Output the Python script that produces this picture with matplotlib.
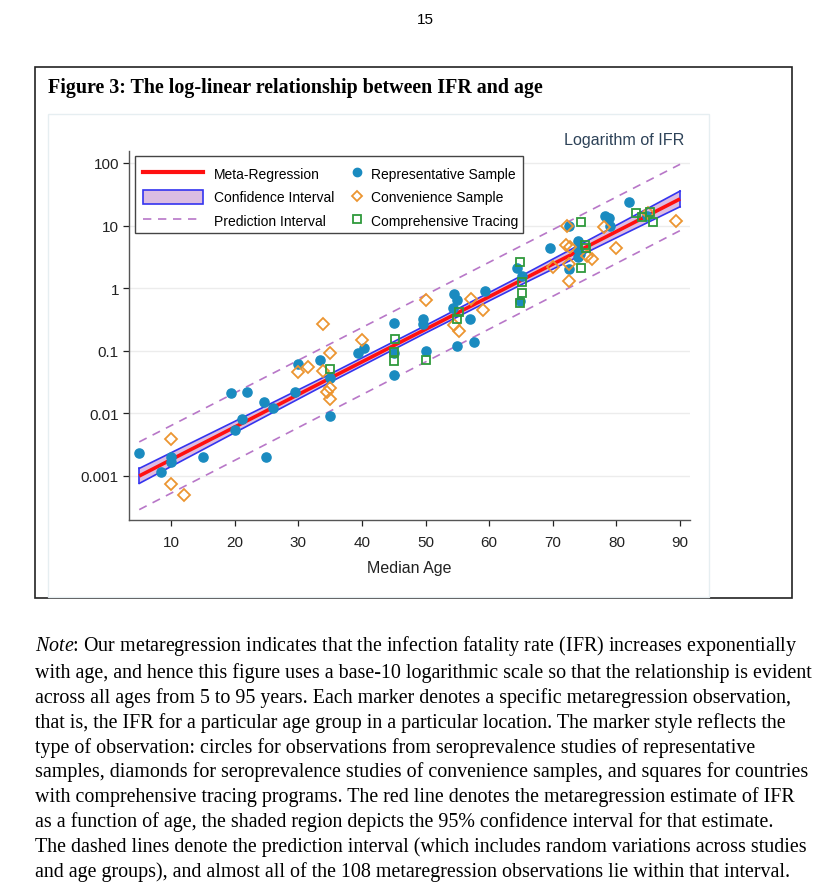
import matplotlib
matplotlib.use("Agg")
import matplotlib.pyplot as plt
from matplotlib.lines import Line2D
from matplotlib.patches import Patch, Rectangle

W, H = 831, 895

# Representative sample (filled circles): median age, IFR (%)
rep_age = [5, 8.4, 10, 10, 15, 19.5, 22, 20, 21.1, 24.6, 26.1, 25, 29.5, 30, 33.4,
           35, 35, 39.4, 40.4, 45, 45, 45, 49.6, 49.6, 50, 54.5, 55, 54.3, 55, 57,
           59.3, 57.6, 64.4, 65.1, 64.8, 69.5, 72.6, 74, 73.9, 74.3, 74, 72.6, 78.2,
           78.9, 79, 81.9, 84.8]
rep_ifr = [0.0023, 0.00115, 0.0020, 0.0017, 0.0020, 0.021, 0.022, 0.0055, 0.008, 0.015,
           0.012, 0.0020, 0.022, 0.062, 0.071, 0.037, 0.0091, 0.091, 0.11, 0.28, 0.091,
           0.041, 0.32, 0.27, 0.098, 0.81, 0.65, 0.48, 0.12, 0.32, 0.91, 0.14, 2.1, 1.55,
           0.62, 4.3, 9.7, 5.7, 4.2, 3.5, 3.1, 2.0, 14, 13, 10, 24, 14.4]

# Convenience sample (hollow diamonds)
conv_age = [10, 10, 12, 30, 31.6, 33.9, 33.9, 35, 35, 34.5, 35, 40, 50, 54.5, 55.2,
            57.1, 59.1, 70.1, 72.2, 72.1, 72.7, 75.4, 76.1, 72.6, 72.6, 78.1, 80, 85, 89.4]
conv_ifr = [0.0039, 0.00075, 0.0005, 0.046, 0.056, 0.27, 0.048, 0.092, 0.025, 0.022,
            0.017, 0.15, 0.65, 0.26, 0.21, 0.67, 0.44, 2.2, 10, 4.9, 4.5, 3.3, 2.9, 2.4,
            1.3, 9.4, 4.3, 16, 12]

# Comprehensive tracing (hollow squares)
trace_age = [35, 45.2, 45, 45, 50, 55.2, 55, 64.8, 65.1, 65.1, 64.8, 74.5, 75.1, 75.2,
             74.4, 83.1, 84, 85.3, 85.7]
trace_ifr = [0.052, 0.155, 0.095, 0.069, 0.072, 0.42, 0.32, 2.6, 1.25, 0.85, 0.58, 11.2,
             4.8, 4.3, 2.1, 15.8, 13.5, 16.6, 11.2]

# meta-regression line and intervals
fit_age = [5, 90]
fit_ifr = [0.00100, 26.6]
ci_age = [5, 20, 35, 50, 65, 80, 90]
ci_low = [0.00076, 0.00491, 0.0314, 0.192, 1.13, 6.38, 19.95]
ci_high = [0.00132, 0.00743, 0.0424, 0.253, 1.56, 10.1, 35.5]
pi_age = [5, 90]
pi_low = [0.00029, 8.3]
pi_high = [0.0035, 95]

xticks = [10, 20, 30, 40, 50, 60, 70, 80, 90]
yticks = [0.001, 0.01, 0.1, 1, 10, 100]
ytick_labels = ['0.001', '0.01', '0.1', '1', '10', '100']

note = ("$\\it{Note}$: Our metaregression indicates that the infection fatality rate (IFR) increases exponentially\n"
        "with age, and hence this figure uses a base-10 logarithmic scale so that the relationship is evident\n"
        "across all ages from 5 to 95 years. Each marker denotes a specific metaregression observation,\n"
        "that is, the IFR for a particular age group in a particular location. The marker style reflects the\n"
        "type of observation: circles for observations from seroprevalence studies of representative\n"
        "samples, diamonds for seroprevalence studies of convenience samples, and squares for countries\n"
        "with comprehensive tracing programs. The red line denotes the metaregression estimate of IFR\n"
        "as a function of age, the shaded region depicts the 95% confidence interval for that estimate.\n"
        "The dashed lines denote the prediction interval (which includes random variations across studies\n"
        "and age groups), and almost all of the 108 metaregression observations lie within that interval.")

plt.rcParams['font.family'] = ['Liberation Sans', 'DejaVu Sans']
plt.rcParams['mathtext.fontset'] = 'custom'
plt.rcParams['mathtext.it'] = 'Liberation Serif:italic'
plt.rcParams['mathtext.rm'] = 'Liberation Serif'

BLUE = '#1a8bc0'
ORANGE = '#ec9530'
GREEN = '#2f9a3c'
RED = '#ff1010'
BANDFILL = '#dcbde2'
BANDEDGE = '#3434f0'
DASH = '#b877c8'


def fx(x):
    return x / W


def fy(y):
    return 1 - y / H


fig = plt.figure(figsize=(W / 100, H / 100), dpi=100)

# page number, figure box, title
fig.text(fx(425), fy(20), '15', ha='center', va='center', fontsize=11)
fig.add_artist(Rectangle((fx(35), fy(599)), fx(792) - fx(35), fy(68) - fy(599),
                         transform=fig.transFigure, fill=False, edgecolor='#222222', lw=1.2))
fig.add_artist(Rectangle((fx(48), fy(598)), fx(709) - fx(48), fy(115) - fy(598),
                         transform=fig.transFigure, fill=False, edgecolor='#e6eef1', lw=1.0))
fig.text(fx(48), fy(88), 'Figure 3: The log-linear relationship between IFR and age',
         family='Liberation Serif', weight='bold', fontsize=14.4, ha='left', va='center')

ax = fig.add_axes([fx(128.6), fy(521), fx(690) - fx(128.6), fy(152) - fy(521)])
ax.set_yscale('log')
ax.set_xlim(3.33, 91.56)
ax.set_ylim(10 ** -3.703, 10 ** 2.19)

for t in yticks:
    ax.axhline(t, color='#ececec', lw=1.0, zorder=0)

ax.plot(pi_age, pi_high, color=DASH, lw=1.2, dashes=(5, 4), zorder=2)
ax.plot(pi_age, pi_low, color=DASH, lw=1.2, dashes=(5, 4), zorder=2)
ax.fill_between(ci_age, ci_low, ci_high, facecolor=BANDFILL, edgecolor='none', zorder=2)
ax.plot(ci_age, ci_low, color=BANDEDGE, lw=1.2, zorder=2)
ax.plot(ci_age, ci_high, color=BANDEDGE, lw=1.2, zorder=2)
ax.plot([ci_age[0], ci_age[0]], [ci_low[0], ci_high[0]], color=BANDEDGE, lw=1.2, zorder=2)
ax.plot([ci_age[-1], ci_age[-1]], [ci_low[-1], ci_high[-1]], color=BANDEDGE, lw=1.2, zorder=2)
ax.plot(fit_age, fit_ifr, color=RED, lw=2.6, zorder=3, solid_capstyle='butt')

ax.plot(rep_age, rep_ifr, 'o', ms=6.6, color=BLUE, mec=BLUE, zorder=4)
ax.plot(conv_age, conv_ifr, 'D', ms=5.8, mfc='none', mec=ORANGE, mew=1.3, zorder=4)
ax.plot(trace_age, trace_ifr, 's', ms=6.0, mfc='none', mec=GREEN, mew=1.3, zorder=4)

ax.set_xticks(xticks)
ax.set_xticklabels([str(v) for v in xticks])
ax.set_yticks(yticks)
ax.set_yticklabels(ytick_labels)
ax.minorticks_off()
ax.tick_params(axis='both', labelsize=11, colors='#222222', length=4, width=0.9)
ax.tick_params(axis='y', pad=3)
ax.tick_params(axis='x', pad=6.5)
for s in ['top', 'right']:
    ax.spines[s].set_visible(False)
for s in ['left', 'bottom']:
    ax.spines[s].set_color('#555555')
    ax.spines[s].set_linewidth(1.0)
ax.set_xlabel('Median Age', fontsize=11.5, color='#222222', labelpad=8)

fig.text(fx(684), fy(141), 'Logarithm of IFR', ha='right', va='center',
         fontsize=11.6, color='#2d4258')

# legend: frame + two columns
ax.add_patch(Rectangle((fx(135), fy(234)), fx(523) - fx(135), fy(157) - fy(234),
                       transform=fig.transFigure, clip_on=False, facecolor='white',
                       edgecolor='#444444', lw=1.0, zorder=5))
h1 = [Line2D([], [], color=RED, lw=3),
      Patch(facecolor=BANDFILL, edgecolor=BANDEDGE, lw=1.2),
      Line2D([], [], color=DASH, lw=1.2, dashes=(5, 4))]
leg1 = ax.legend(h1, ['Meta-Regression', 'Confidence Interval', 'Prediction Interval'],
                 loc='upper left', bbox_to_anchor=(fx(143), fy(167)),
                 bbox_transform=fig.transFigure, frameon=False, fontsize=10,
                 handlelength=4.3, handleheight=1.15, handletextpad=0.8,
                 labelspacing=0.66, borderpad=0, borderaxespad=0)
leg1.set_zorder(6)
ax.add_artist(leg1)
h2 = [Line2D([], [], marker='o', ls='none', ms=6, color=BLUE),
      Line2D([], [], marker='D', ls='none', ms=5.2, mfc='none', mec=ORANGE, mew=1.3),
      Line2D([], [], marker='s', ls='none', ms=5.6, mfc='none', mec=GREEN, mew=1.3)]
leg2 = ax.legend(h2, ['Representative Sample', 'Convenience Sample', 'Comprehensive Tracing'],
                 loc='upper left', bbox_to_anchor=(fx(350), fy(167)),
                 bbox_transform=fig.transFigure, frameon=False, fontsize=10,
                 handlelength=1.0, handleheight=1.15, handletextpad=0.5,
                 labelspacing=0.66, borderpad=0, borderaxespad=0)
leg2.set_zorder(6)

fig.text(fx(35), fy(634), note, ha='left', va='top', family='Liberation Serif',
         fontsize=14.4, linespacing=1.335, color='black')

fig.savefig('out.png', dpi=100)
